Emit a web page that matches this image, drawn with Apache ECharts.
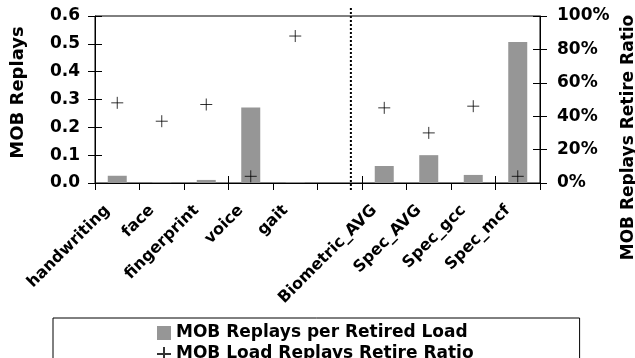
<!DOCTYPE html>
<html>
<head>
<meta charset="utf-8">
<script src="https://cdn.jsdelivr.net/npm/echarts@6/dist/echarts.min.js"></script>
<style>
  html, body { margin: 0; padding: 0; background: #fff; }
  #chart { width: 635px; height: 358px; }
</style>
</head>
<body>
<div id="chart"></div>
<script>
// benchmarks (slot 5 is the empty gap before the averages)
var categories = ['handwriting', 'face', 'fingerprint', 'voice', 'gait', '',
                  'Biometric_AVG', 'Spec_AVG', 'Spec_gcc', 'Spec_mcf'];
var replaysPerLoad = [0.026, 0.003, 0.011, 0.271, 0.003, null, 0.061, 0.100, 0.029, 0.507];
var retireRatio = [0.48, 0.37, 0.47, 0.04, 0.88, null, 0.45, 0.30, 0.46, 0.04];
var leftTicks = [0, 0.6, 0.1];   // min, max, interval
var rightTicks = [0, 1, 0.2];
var dividerAt = 5.75;             // in category widths from the left edge

var font = 'DejaVu Sans';
var plus = 'path://M0,6H12M6,0V12';

var chart = echarts.init(document.getElementById('chart'));

var tickOut = { show: true, inside: false, length: 7, lineStyle: { color: '#000', width: 1 } };
var tickIn = { show: true, inside: true, length: 7, lineStyle: { color: '#000', width: 1 } };
var lineBlack = { show: true, lineStyle: { color: '#000', width: 1 } };
var labelStyle = { color: '#000', fontFamily: font, fontWeight: 'bold', fontSize: 17 };

var option = {
  animation: false,
  grid: [
    { left: 95, right: 95, top: 16, bottom: 175, show: true, borderColor: '#000', borderWidth: 1, outerBoundsMode: 'none', containLabel: false },
    { left: 95, right: 95, top: 8, bottom: 168, outerBoundsMode: 'none', containLabel: false }
  ],
  legend: {
    orient: 'vertical',
    left: 53, top: 318, height: 80,
    padding: [6, 106, 20, 103],
    borderColor: '#000', borderWidth: 1,
    itemWidth: 14, itemHeight: 14, itemGap: 3,
    textStyle: { color: '#000', fontFamily: font, fontWeight: 'bold', fontSize: 17, lineHeight: 18 },
    data: [
      { name: 'MOB Replays per Retired Load', icon: 'rect' },
      { name: 'MOB Load Replays Retire Ratio', icon: plus }
    ]
  },
  xAxis: [
    {
      type: 'category', gridIndex: 0, data: categories, boundaryGap: true,
      axisLine: lineBlack, axisTick: tickOut,
      axisLabel: { interval: 0, rotate: 45, margin: 15, padding: [0, 14, 0, 0], color: '#000', fontFamily: font, fontWeight: 'bold', fontSize: 16 }
    },
    {
      type: 'category', gridIndex: 0, data: categories, position: 'bottom',
      axisLine: { show: false }, axisTick: tickIn, axisLabel: { show: false }
    },
    { type: 'value', gridIndex: 1, min: 0, max: 10, show: false }
  ],
  yAxis: [
    {
      type: 'value', gridIndex: 0, position: 'left',
      min: leftTicks[0], max: leftTicks[1], interval: leftTicks[2],
      name: 'MOB Replays', nameLocation: 'middle', nameGap: 68,
      nameTextStyle: { color: '#000', fontFamily: font, fontWeight: 'bold', fontSize: 18, padding: [0, 0, 0, 14] },
      axisLine: lineBlack, axisTick: tickOut, splitLine: { show: false },
      axisLabel: Object.assign({ margin: 15, formatter: function (v) { return v.toFixed(1); } }, labelStyle)
    },
    {
      type: 'value', gridIndex: 0, position: 'right',
      min: rightTicks[0], max: rightTicks[1], interval: rightTicks[2],
      name: 'MOB Replays Retire Ratio', nameLocation: 'middle', nameGap: 78,
      nameTextStyle: { color: '#000', fontFamily: font, fontWeight: 'bold', fontSize: 17, padding: [0, 76, 0, 0] },
      axisLine: lineBlack, axisTick: tickOut, splitLine: { show: false },
      axisLabel: Object.assign({ margin: 17, formatter: function (v) { return Math.round(v * 100) + '%'; } }, labelStyle)
    },
    {
      type: 'value', gridIndex: 0, position: 'left',
      min: leftTicks[0], max: leftTicks[1], interval: leftTicks[2],
      axisLine: { show: false }, axisTick: tickIn, axisLabel: { show: false }, splitLine: { show: false }
    },
    {
      type: 'value', gridIndex: 0, position: 'right',
      min: rightTicks[0], max: rightTicks[1], interval: rightTicks[2],
      axisLine: { show: false }, axisTick: tickIn, axisLabel: { show: false }, splitLine: { show: false }
    },
    { type: 'value', gridIndex: 1, min: 0, max: 1, show: false }
  ],
  series: [
    {
      name: 'MOB Replays per Retired Load', type: 'bar',
      xAxisIndex: 0, yAxisIndex: 0, barWidth: 19,
      itemStyle: { color: '#969696' },
      data: replaysPerLoad
    },
    {
      name: 'MOB Load Replays Retire Ratio', type: 'scatter',
      xAxisIndex: 0, yAxisIndex: 1,
      symbol: plus, symbolSize: 12,
      itemStyle: { color: 'rgba(0,0,0,0)', borderColor: '#000', borderWidth: 1 },
      data: retireRatio
    },
    {
      name: 'divider', type: 'line', xAxisIndex: 2, yAxisIndex: 4,
      symbol: 'none', silent: true,
      lineStyle: { color: '#000', width: 2, type: [2, 2] },
      data: [[dividerAt, 0], [dividerAt, 1]]
    }
  ]
};

chart.setOption(option);
</script>
</body>
</html>
